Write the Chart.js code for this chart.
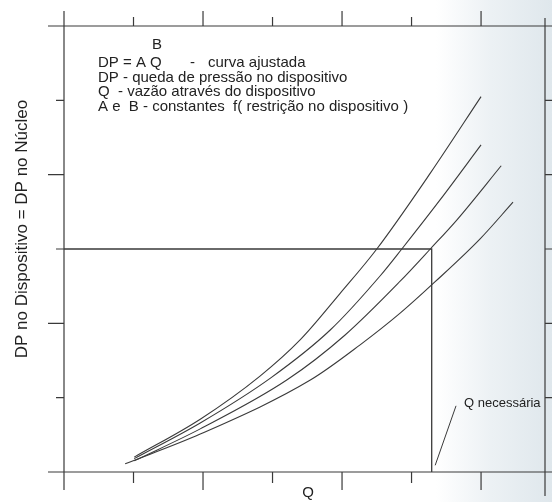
<!DOCTYPE html>
<html>
<head>
<meta charset="utf-8">
<script src="https://cdn.jsdelivr.net/npm/chart.js@4.4.1/dist/chart.umd.min.js"></script>
<style>
  html, body { margin: 0; padding: 0; background: #fff; }
  #wrap { width: 552px; height: 502px; }
</style>
</head>
<body>
<div id="wrap"><canvas id="grafico" width="552" height="502"></canvas></div>
<script>
// eixos (unidades = intervalos de marca)
const xTicks = [0, 1, 2, 3, 4, 5, 6];
const xMajor = [0, 2, 4, 6];
const yTicks = [0, 1, 2, 3, 4, 5, 6];
const yMajor = [0, 2, 4, 6];
const xMax = 6.92;
const yMax = 6;

// curvas DP = A Q^B
const curva1 = [{x: 1.01, y: 0.2}, {x: 1.96, y: 0.71}, {x: 2.82, y: 1.29}, {x: 3.4, y: 1.78}, {x: 3.97, y: 2.4}, {x: 4.5, y: 3.0}, {x: 5.27, y: 4.02}, {x: 6.0, y: 5.05}];
const curva2 = [{x: 1.01, y: 0.18}, {x: 1.96, y: 0.66}, {x: 2.98, y: 1.27}, {x: 3.83, y: 1.91}, {x: 4.55, y: 2.64}, {x: 4.86, y: 3.0}, {x: 5.41, y: 3.66}, {x: 6.0, y: 4.4}];
const curva3 = [{x: 1.01, y: 0.15}, {x: 1.96, y: 0.58}, {x: 3.21, y: 1.24}, {x: 4.04, y: 1.84}, {x: 4.84, y: 2.57}, {x: 5.27, y: 3.0}, {x: 5.66, y: 3.4}, {x: 6.29, y: 4.12}];
const curva4 = [{x: 0.88, y: 0.11}, {x: 1.96, y: 0.51}, {x: 3.55, y: 1.24}, {x: 4.26, y: 1.71}, {x: 4.84, y: 2.14}, {x: 5.34, y: 2.56}, {x: 5.99, y: 3.14}, {x: 6.46, y: 3.63}];

// Q necessaria / DP no nucleo
const qNecessaria = 5.29;
const dpNucleo = 3;
const linhaRef = [{x: 0, y: dpNucleo}, {x: qNecessaria, y: dpNucleo}, {x: qNecessaria, y: 0}];
const setaRotulo = [{x: 5.34, y: 0.09}, {x: 5.64, y: 0.89}];

const legenda = [
  'DP - queda de pressão no dispositivo',
  'Q  - vazão através do dispositivo',
  'A e  B - constantes  f( restrição no dispositivo )'
];

const COR = '#3a3a3a';
const FONTE = '"Liberation Sans", Arial, sans-serif';

const fundo = {
  id: 'fundo',
  beforeDraw(chart) {
    const { ctx, width, height } = chart;
    const g = ctx.createLinearGradient(0, 0, width, 0);
    g.addColorStop(0, '#ffffff');
    g.addColorStop(0.79, '#ffffff');
    g.addColorStop(0.89, '#ecf1f4');
    g.addColorStop(1, '#dfe7ec');
    ctx.save();
    ctx.fillStyle = g;
    ctx.fillRect(0, 0, width, height);
    ctx.restore();
  }
};

const molduras = {
  id: 'molduras',
  afterDraw(chart) {
    const { ctx, chartArea: a, width } = chart;
    const sx = chart.scales.x, sy = chart.scales.y;
    ctx.save();
    ctx.strokeStyle = COR;
    ctx.lineWidth = 1.2;
    ctx.beginPath();
    // eixos superior e inferior
    ctx.moveTo(a.left, a.top); ctx.lineTo(width, a.top);
    ctx.moveTo(a.left, a.bottom); ctx.lineTo(width, a.bottom);
    // eixos esquerdo e direito
    ctx.moveTo(a.left, a.top); ctx.lineTo(a.left, a.bottom);
    ctx.moveTo(a.right, a.top - 8); ctx.lineTo(a.right, a.bottom + 24);
    // marcas em x
    xTicks.forEach(v => {
      const px = sx.getPixelForValue(v);
      const maior = xMajor.includes(v);
      ctx.moveTo(px, a.top); ctx.lineTo(px, a.top - (maior ? 15 : 9));
      ctx.moveTo(px, a.bottom); ctx.lineTo(px, a.bottom + (maior ? 18 : 11));
    });
    // marcas em y
    yTicks.forEach(v => {
      const py = sy.getPixelForValue(v);
      const maior = yMajor.includes(v);
      ctx.moveTo(a.left, py); ctx.lineTo(a.left - (maior ? 16 : 8), py);
      if (v > 0 && v < yMax) { ctx.moveTo(a.right, py); ctx.lineTo(a.right + 8, py); }
    });
    ctx.stroke();

    // textos
    ctx.fillStyle = '#222';
    ctx.textBaseline = 'middle';
    ctx.font = '15px ' + FONTE;
    ctx.fillText('B', 152, 45);
    ctx.fillText('DP = A Q', 98, 63);
    ctx.fillText('-', 190, 63);
    ctx.fillText('curva ajustada', 208, 63);
    legenda.forEach((t, i) => ctx.fillText(t, 98, 77.5 + i * 14.5));

    ctx.font = '13px ' + FONTE;
    ctx.fillText('Q necessária', 464, 403);

    ctx.font = '15px ' + FONTE;
    ctx.textAlign = 'center';
    ctx.fillText('Q', 308, 493);

    ctx.font = '17px ' + FONTE;
    ctx.translate(22, 229);
    ctx.rotate(-Math.PI / 2);
    ctx.fillText('DP no Dispositivo = DP no Núcleo', 0, 0);
    ctx.restore();
  }
};

const linha = (data, w) => ({
  data,
  borderColor: COR,
  borderWidth: w,
  pointRadius: 0,
  fill: false,
  cubicInterpolationMode: 'monotone',
  clip: false
});

new Chart(document.getElementById('grafico'), {
  type: 'line',
  data: {
    datasets: [
      linha(curva1, 1.1),
      linha(curva2, 1.1),
      linha(curva3, 1.1),
      linha(curva4, 1.1),
      Object.assign(linha(linhaRef, 1.3), { cubicInterpolationMode: 'default', tension: 0 }),
      Object.assign(linha(setaRotulo, 1), { cubicInterpolationMode: 'default', tension: 0 })
    ]
  },
  options: {
    responsive: false,
    animation: false,
    events: [],
    layout: { padding: { left: 64, right: 7, top: 26, bottom: 30 } },
    scales: {
      x: { type: 'linear', min: 0, max: xMax, display: false },
      y: { type: 'linear', min: 0, max: yMax, display: false }
    },
    plugins: { legend: { display: false }, tooltip: { enabled: false } }
  },
  plugins: [fundo, molduras]
});
</script>
</body>
</html>
